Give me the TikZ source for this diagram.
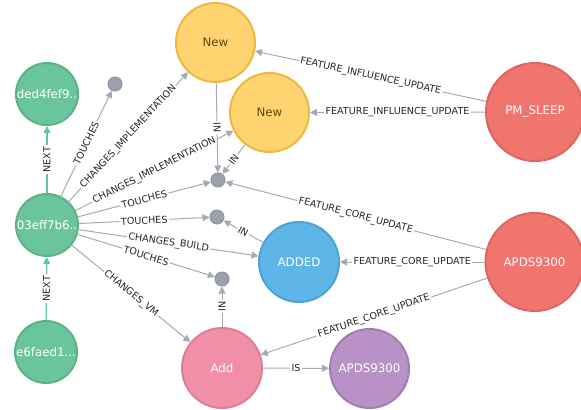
\documentclass[tikz,border=0pt]{standalone}
\usepackage{fontspec}
\setmainfont{DejaVu Sans}
\usetikzlibrary{arrows.meta}
\definecolor{greenF}{HTML}{6BC59C}\definecolor{greenB}{HTML}{5BB38A}
\definecolor{yelF}{HTML}{FFD470}\definecolor{yelB}{HTML}{EDB83E}
\definecolor{redF}{HTML}{F1756F}\definecolor{redB}{HTML}{DE6660}
\definecolor{bluF}{HTML}{5DB6E7}\definecolor{bluB}{HTML}{4EA3D4}
\definecolor{pinkF}{HTML}{F28FA8}\definecolor{pinkB}{HTML}{DD7F96}
\definecolor{purF}{HTML}{B891C6}\definecolor{purB}{HTML}{A47DB3}
\definecolor{dotF}{HTML}{9AA1AC}\definecolor{dotB}{HTML}{8E95A0}
\definecolor{edgeC}{HTML}{A5ABB6}
\definecolor{newT}{HTML}{604A0E}
\tikzset{
  gnode/.style 2 args={circle,draw=#1B,fill=#1F,line width=2bp,minimum size=#2,inner sep=0pt},
  ntext/.style={font=\fontsize{11.8bp}{14bp}\selectfont,text=white},
  dotnode/.style={circle,draw=dotB,fill=dotF,line width=1bp,minimum size=14bp,inner sep=0pt},
  rel/.style={draw=edgeC,line width=1bp,-{Triangle[length=7bp,width=7bp]}},
  nextrel/.style={draw=greenF,line width=1.3bp,-{Triangle[length=7bp,width=7bp]}},
  lab/.style={font=\fontsize{9.6bp}{11bp}\selectfont,text=black!85,fill=white,inner sep=1.5bp,sloped,midway}
}
\begin{document}
\begin{tikzpicture}[x=1bp,y=-1bp]
\useasboundingbox (0,0) rectangle (581,409);
\clip (0,0) rectangle (581,409);
% nodes
\node[gnode={yel}{79bp},label={[ntext,text=newT]center:New}] (new1) at (215.5,42.5) {};
\node[gnode={yel}{79bp},label={[ntext,text=newT]center:New}] (new2) at (269.5,112.5) {};
\node[gnode={red}{98bp},label={[ntext]center:PM\_SLEEP}] (pm) at (535,112) {};
\node[gnode={green}{62bp},label={[ntext]center:ded4fef9..}] (ded) at (47,94) {};
\node[gnode={green}{62bp},label={[ntext]center:03eff7b6..}] (eff) at (47,225) {};
\node[gnode={green}{62bp},label={[ntext]center:e6faed1...}] (e6f) at (46,352) {};
\node[gnode={blu}{80bp},label={[ntext]center:ADDED}] (added) at (299,262) {};
\node[gnode={red}{98bp},label={[ntext]center:APDS9300}] (apr) at (534.5,262) {};
\node[gnode={pink}{80bp},label={[ntext]center:Add}] (add) at (222,368) {};
\node[gnode={pur}{79bp},label={[ntext]center:APDS9300}] (app) at (369.5,368.5) {};
\node[dotnode] (dA) at (115,84) {};
\node[dotnode] (dB) at (218,180) {};
\node[dotnode] (dC) at (217,217) {};
\node[dotnode] (dD) at (222,279) {};
% edges
\draw[nextrel] (eff) -- node[lab]{NEXT} (ded);
\draw[nextrel] (e6f) -- node[lab]{NEXT} (eff);
\draw[rel] (eff) -- node[lab]{TOUCHES} (dA);
\draw[rel] (eff) -- node[lab]{CHANGES\_IMPLEMENTATION} (new1);
\draw[rel] (eff) -- node[lab]{CHANGES\_IMPLEMENTATION} (new2);
\draw[rel] (eff) -- node[lab]{TOUCHES} (dB);
\draw[rel] (eff) -- node[lab]{TOUCHES} (dC);
\draw[rel] (eff) -- node[lab]{CHANGES\_BUILD} (added);
\draw[rel] (eff) -- node[lab]{TOUCHES} (dD);
\draw[rel] (eff) -- node[lab]{CHANGES\_VM} (add);
\draw[rel] (new1) -- node[lab]{IN} (dB);
\draw[rel] (new2) -- node[lab]{IN} (dB);
\draw[rel] (pm) -- node[lab]{FEATURE\_INFLUENCE\_UPDATE} (new1);
\draw[rel] (pm) -- node[lab]{FEATURE\_INFLUENCE\_UPDATE} (new2);
\draw[rel] (apr) -- node[lab]{FEATURE\_CORE\_UPDATE} (dB);
\draw[rel] (apr) -- node[lab]{FEATURE\_CORE\_UPDATE} (added);
\draw[rel] (apr) -- node[lab]{FEATURE\_CORE\_UPDATE} (add);
\draw[rel] (added) -- node[lab]{IN} (dC);
\draw[rel] (add) -- node[lab]{IN} (dD);
\draw[rel] (add) -- node[lab]{IS} (app);
\end{tikzpicture}
\end{document}
